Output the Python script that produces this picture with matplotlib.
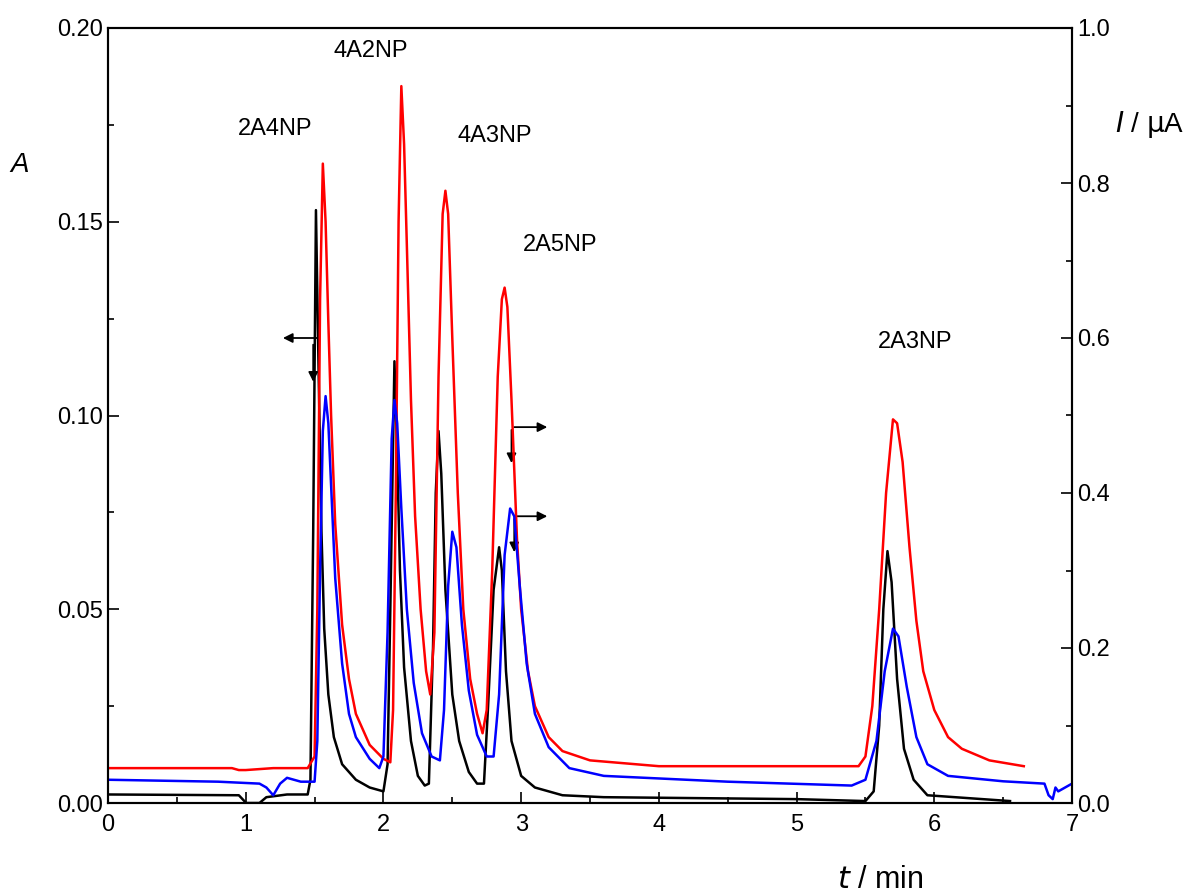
import matplotlib.pyplot as plt
from matplotlib.ticker import MultipleLocator

plt.rcParams['font.family'] = ['Liberation Sans', 'DejaVu Sans']

# black trace, absorbance A (left axis)
t_black = [0, 0.95, 0.99, 1.0, 1.1, 1.15, 1.3, 1.45, 1.47, 1.49, 1.51, 1.53, 1.55, 1.57, 1.6, 1.64, 1.7, 1.8,
           1.9, 2.0, 2.03, 2.05, 2.08, 2.10, 2.12, 2.15, 2.2, 2.25, 2.3, 2.33, 2.36, 2.38, 2.40, 2.42, 2.45,
           2.5, 2.55, 2.62, 2.68, 2.73, 2.76, 2.8, 2.84, 2.86, 2.89, 2.93, 3.0, 3.1, 3.3, 3.6, 5.0, 5.5, 5.56,
           5.6, 5.63, 5.66, 5.69, 5.73, 5.78, 5.85, 5.95, 6.55]
a_black = [0.0022, 0.0020, 0.0005, 0, 0, 0.0015, 0.0022, 0.0022, 0.006, 0.07, 0.153, 0.11, 0.07, 0.045, 0.028,
           0.017, 0.01, 0.006, 0.004, 0.003, 0.01, 0.05, 0.114, 0.09, 0.06, 0.035, 0.016, 0.007, 0.0045,
           0.005, 0.04, 0.08, 0.096, 0.085, 0.055, 0.028, 0.016, 0.008, 0.005, 0.005, 0.025, 0.055, 0.066, 0.06,
           0.034, 0.016, 0.007, 0.004, 0.002, 0.0015, 0.001, 0.0005, 0.003, 0.02, 0.05, 0.065, 0.057, 0.032,
           0.014, 0.006, 0.002, 0.0005]

# red trace, current I / uA (right axis)
t_red = [0, 0.9, 0.95, 1.0, 1.2, 1.45, 1.5, 1.52, 1.54, 1.56, 1.58, 1.60, 1.62, 1.65, 1.7, 1.75, 1.8, 1.9, 2.0,
         2.05, 2.07, 2.09, 2.11, 2.13, 2.15, 2.17, 2.2, 2.23, 2.27, 2.31, 2.34, 2.37, 2.40, 2.43, 2.45, 2.47,
         2.5, 2.54, 2.58, 2.63, 2.68, 2.72, 2.75, 2.79, 2.83, 2.86, 2.88, 2.9, 2.93, 2.97, 3.0, 3.05, 3.1, 3.2,
         3.3, 3.5, 4.0, 5.45, 5.5, 5.55, 5.6, 5.65, 5.7, 5.73, 5.77, 5.82, 5.87, 5.92, 6.0, 6.1, 6.2, 6.4, 6.65]
i_red = [0.045, 0.045, 0.0425, 0.0425, 0.045, 0.045, 0.06, 0.25, 0.65, 0.825, 0.75, 0.62, 0.50, 0.36, 0.23,
         0.16, 0.115, 0.075, 0.057, 0.0525, 0.12, 0.40, 0.75, 0.925, 0.85, 0.72, 0.52, 0.37, 0.25, 0.17, 0.14,
         0.22, 0.55, 0.76, 0.79, 0.76, 0.60, 0.40, 0.25, 0.16, 0.115, 0.09, 0.12, 0.30, 0.55, 0.65, 0.665,
         0.64, 0.52, 0.34, 0.25, 0.17, 0.125, 0.085, 0.067, 0.055, 0.0475, 0.0475, 0.06, 0.125, 0.25, 0.40,
         0.495, 0.49, 0.44, 0.33, 0.235, 0.17, 0.12, 0.085, 0.07, 0.055, 0.0475]

# blue trace, current I / uA (right axis)
t_blue = [0, 0.8, 1.1, 1.15, 1.2, 1.25, 1.3, 1.4, 1.5, 1.52, 1.54, 1.56, 1.58, 1.60, 1.62, 1.65, 1.7, 1.75,
          1.8, 1.9, 1.97, 2.0, 2.03, 2.06, 2.08, 2.10, 2.13, 2.17, 2.22, 2.28, 2.35, 2.41, 2.44, 2.47, 2.5,
          2.53, 2.57, 2.62, 2.68, 2.75, 2.8, 2.84, 2.88, 2.92, 2.95, 2.99, 3.04, 3.1, 3.2, 3.35, 3.6, 4.5, 5.4,
          5.5, 5.58, 5.64, 5.7, 5.74, 5.8, 5.87, 5.95, 6.1, 6.5, 6.8, 6.83, 6.86, 6.88, 6.9, 7.0]
i_blue = [0.03, 0.0275, 0.025, 0.02, 0.01, 0.025, 0.0325, 0.0275, 0.0275, 0.08, 0.30, 0.48, 0.525, 0.49, 0.41,
          0.29, 0.18, 0.115, 0.085, 0.057, 0.045, 0.06, 0.22, 0.47, 0.52, 0.49, 0.38, 0.25, 0.155, 0.09, 0.06,
          0.055, 0.12, 0.28, 0.35, 0.33, 0.23, 0.145, 0.088, 0.06, 0.06, 0.14, 0.32, 0.38, 0.37, 0.28, 0.18,
          0.115, 0.072, 0.045, 0.035, 0.0275, 0.0225, 0.03, 0.08, 0.17, 0.225, 0.215, 0.15, 0.085, 0.05, 0.035,
          0.028, 0.025, 0.01, 0.005, 0.02, 0.015, 0.025]

peak_names = ['2A4NP', '4A2NP', '4A3NP', '2A5NP', '2A3NP']
label_t = [1.21, 1.91, 2.81, 3.28, 5.86]
label_a = [0.174, 0.194, 0.172, 0.144, 0.119]

fig = plt.figure(figsize=(11.95, 8.94), dpi=100)
ax = fig.add_axes([108/1195, 91/894, 964/1195, 775/894])
ax2 = ax.twinx()

ax.plot(t_black, a_black, color='black', lw=1.8)
ax2.plot(t_red, i_red, color='red', lw=1.8)
ax2.plot(t_blue, i_blue, color='blue', lw=1.8)

ax.set_xlim(0, 7)
ax.set_ylim(0, 0.20)
ax2.set_ylim(0, 1.0)
ax.xaxis.set_major_locator(MultipleLocator(1))
ax.xaxis.set_minor_locator(MultipleLocator(0.5))
ax.yaxis.set_minor_locator(MultipleLocator(0.025))
ax2.yaxis.set_major_locator(MultipleLocator(0.2))
ax2.yaxis.set_minor_locator(MultipleLocator(0.1))
ax.set_yticks([0, 0.05, 0.10, 0.15, 0.20], ['0.00', '0.05', '0.10', '0.15', '0.20'])
for a in (ax, ax2):
    a.tick_params(which='major', direction='in', length=8, width=1.2, labelsize=17)
    a.tick_params(which='minor', direction='in', length=4, width=1.2)
    for s in a.spines.values():
        s.set_linewidth(1.5)
ax.tick_params(axis='x', pad=8)

for name, tt, aa in zip(peak_names, label_t, label_a):
    ax.text(tt, aa, name, fontsize=17, ha='center', va='center')

arr = dict(arrowstyle='-|>', color='black', lw=1.3, mutation_scale=14)
ax.annotate('', xy=(1.25, 0.120), xytext=(1.54, 0.120), arrowprops=arr)
ax.annotate('', xy=(1.49, 0.108), xytext=(1.49, 0.119), arrowprops=arr)
ax.annotate('', xy=(3.21, 0.097), xytext=(2.93, 0.097), arrowprops=arr)
ax.annotate('', xy=(2.93, 0.087), xytext=(2.93, 0.097), arrowprops=arr)
ax.annotate('', xy=(3.21, 0.074), xytext=(2.95, 0.074), arrowprops=arr)
ax.annotate('', xy=(2.95, 0.064), xytext=(2.95, 0.074), arrowprops=arr)

fig.text(20/1195, 1 - 165/894, 'A', fontsize=20, style='italic', ha='center', va='center')
fig.text(1150/1195, 1 - 125/894, r'$I$ / $\mathrm{\mu}$A', fontsize=20, ha='center', va='center')
fig.text(880/1195, 1 - 880/894, r'$t$ / min', fontsize=22, ha='center', va='center')

fig.savefig('out.png', dpi=100)
